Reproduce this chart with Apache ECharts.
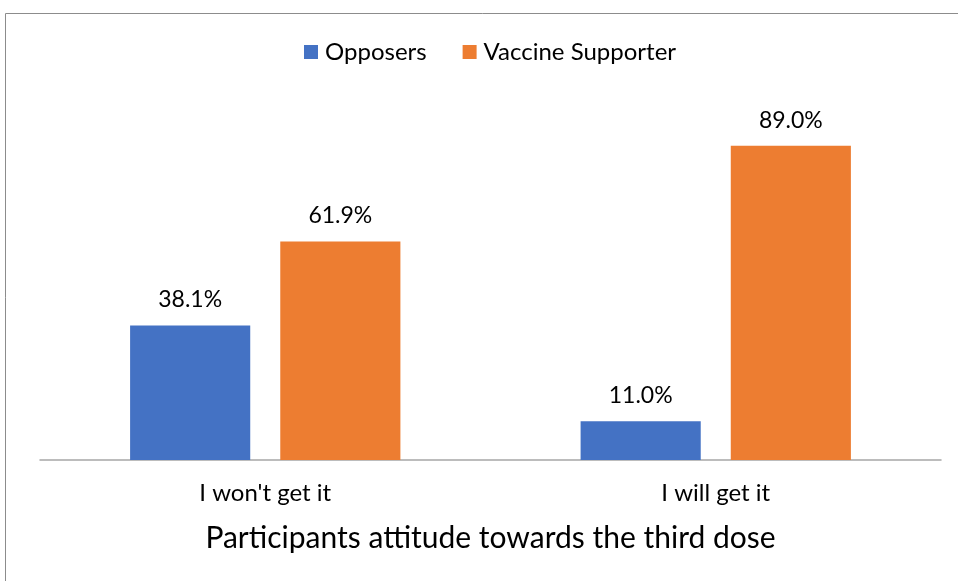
<!DOCTYPE html>
<html><head><meta charset="utf-8">
<script src="https://cdn.jsdelivr.net/npm/echarts@6/dist/echarts.min.js"></script>
<style>html,body{margin:0;padding:0;background:#fff}#c{width:958px;height:581px}</style>
</head><body><div id="c"></div>
<script>
const categories = ["I won't get it", "I will get it"];
const opposers = [38.1, 11.0];
const supporters = [61.9, 89.0];
const seriesNames = ["Opposers", "Vaccine Supporter"];
const axisTitle = "Participants attitude towards the third dose";

const FONT = "Lato, 'Open Sans', sans-serif";
const chart = echarts.init(document.getElementById('c'));
const lbl = {show: true, position: 'top', distance: 14, fontSize: 23, color: '#000', fontFamily: FONT,
  formatter: p => p.value.toFixed(1) + '%'};
chart.setOption({
  animation: false,
  graphic: [{type: 'rect', shape: {x: 5.5, y: 13.5, width: 1000, height: 1000},
    style: {fill: 'none', stroke: '#8c8c8c', lineWidth: 1}, silent: true}],
  legend: {top: 35, left: 299, itemWidth: 14, itemHeight: 14, itemGap: 36,
    icon: 'rect', textStyle: {fontSize: 24, color: '#000', fontFamily: FONT, padding: [0, 0, 0, 2]},
    data: seriesNames},
  grid: {left: 40, right: 17, top: 107, bottom: 121, containLabel: false},
  xAxis: {type: 'category', data: categories,
    axisLine: {lineStyle: {color: '#a6a6a6', width: 1.5}}, axisTick: {show: false},
    axisLabel: {fontSize: 24, color: '#000', fontFamily: FONT, margin: 21},
    name: axisTitle, nameLocation: 'middle', nameGap: 63,
    nameTextStyle: {fontSize: 30, color: '#000', fontFamily: FONT}},
  yAxis: {type: 'value', min: 0, max: 100, show: false, splitLine: {show: false}},
  series: [
    {name: seriesNames[0], type: 'bar', data: opposers, itemStyle: {color: '#4472C4'},
      barGap: '25%', barCategoryGap: '40%', label: lbl},
    {name: seriesNames[1], type: 'bar', data: supporters, itemStyle: {color: '#ED7D31'},
      barGap: '25%', barCategoryGap: '40%', label: lbl}
  ]
});
</script></body></html>
